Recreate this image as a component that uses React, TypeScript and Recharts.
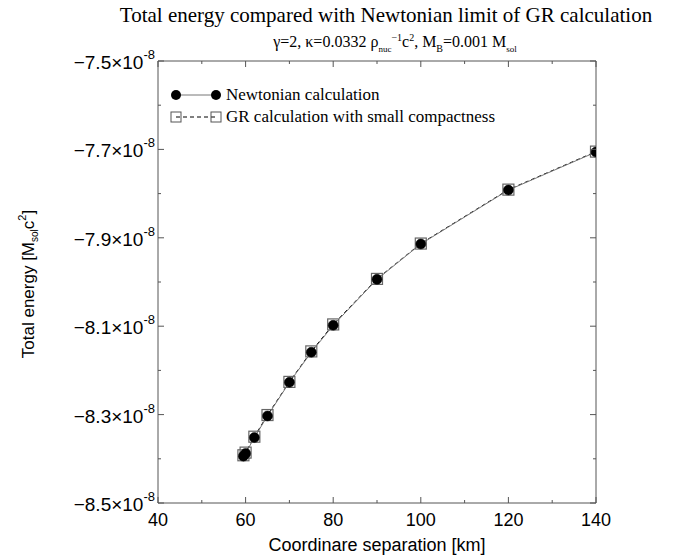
import { LineChart, Line, XAxis, YAxis, Legend } from 'recharts';

// coordinate separation in km
const separation = [59.5, 60, 62, 65, 70, 75, 80, 90, 100, 120, 140];
// total energy, in units of 1e-8 M_sol c^2
const newtonian = [-8.394, -8.388, -8.352, -8.303, -8.227, -8.159, -8.098, -7.994, -7.914, -7.792, -7.706];
const grSmall = [-8.392, -8.386, -8.350, -8.301, -8.226, -8.157, -8.096, -7.993, -7.913, -7.791, -7.705];

const xTicks = [40, 50, 60, 70, 80, 90, 100, 110, 120, 130, 140];
const xLabels = [40, 60, 80, 100, 120, 140];
const yTicks = [-8.5, -8.4, -8.3, -8.2, -8.1, -8.0, -7.9, -7.8, -7.7, -7.6, -7.5];
const yLabels = [-8.5, -8.3, -8.1, -7.9, -7.7, -7.5];

const data = separation.map((x, i) => ({ x, newt: newtonian[i], gr: grSmall[i] }));

const AXIS = '#555';
const SANS = '"Liberation Sans", Arial, sans-serif';
const SERIF = '"Liberation Serif", "Times New Roman", serif';

function BottomTick({ x, y, payload }: any) {
  const major = xLabels.includes(payload.value);
  return (
    <g>
      <line x1={x} x2={x} y1={y} y2={y - (major ? 6 : 3)} stroke={AXIS} />
      {major && (
        <text x={x} y={y + 23} textAnchor="middle" fontSize={18} fontFamily={SANS} fill="#000">
          {payload.value}
        </text>
      )}
    </g>
  );
}

function TopTick({ x, y, payload }: any) {
  const major = xLabels.includes(payload.value);
  return <line x1={x} x2={x} y1={y} y2={y + (major ? 6 : 3)} stroke={AXIS} />;
}

function LeftTick({ x, y, payload }: any) {
  const major = yLabels.some((v) => Math.abs(v - payload.value) < 1e-6);
  return (
    <g>
      <line x1={x} x2={x + (major ? 6 : 3)} y1={y} y2={y} stroke={AXIS} />
      {major && (
        <text x={x - 3} y={y + 8} textAnchor="end" fontSize={19} fontFamily={SANS} fill="#000">
          <tspan>{'\u2212' + Math.abs(payload.value).toFixed(1) + '\u00d710'}</tspan>
          <tspan dy={-10} fontSize={13}>-8</tspan>
        </text>
      )}
    </g>
  );
}

function RightTick({ x, y, payload }: any) {
  const major = yLabels.some((v) => Math.abs(v - payload.value) < 1e-6);
  return <line x1={x} x2={x - (major ? 6 : 3)} y1={y} y2={y} stroke={AXIS} />;
}

function SquareDot({ cx, cy, index }: any) {
  return <rect key={`sq-${index}`} x={cx - 5.5} y={cy - 5.5} width={11} height={11} fill="none" stroke="#666" strokeWidth={1.2} />;
}

function LegendBox() {
  const txt = { fontFamily: SERIF, fontSize: 17, color: '#000' };
  return (
    <div style={{ lineHeight: '22px' }}>
      <div style={{ display: 'flex', alignItems: 'center' }}>
        <svg width={56} height={14}>
          <line x1={6} x2={46} y1={7} y2={7} stroke="#777" />
          <circle cx={6} cy={7} r={5} fill="#000" />
          <circle cx={46} cy={7} r={5} fill="#000" />
        </svg>
        <span style={txt}>Newtonian calculation</span>
      </div>
      <div style={{ display: 'flex', alignItems: 'center' }}>
        <svg width={56} height={14}>
          <line x1={6} x2={46} y1={7} y2={7} stroke="#000" strokeDasharray="4 3" />
          <rect x={1} y={2} width={10} height={10} fill="none" stroke="#555" />
          <rect x={41} y={2} width={10} height={10} fill="none" stroke="#555" />
        </svg>
        <span style={txt}>GR calculation with small compactness</span>
      </div>
    </div>
  );
}

export default function App() {
  return (
    <div style={{ position: 'absolute', left: 0, top: 0, width: 680, height: 557, background: '#fff' }}>
      <div style={{ position: 'absolute', left: 0, top: 3, width: 772, textAlign: 'center', fontFamily: SERIF, fontSize: 21, color: '#000' }}>
        Total energy compared with Newtonian limit of GR calculation
      </div>
      <div style={{ position: 'absolute', left: 0, top: 32, width: 790, textAlign: 'center', fontFamily: SERIF, fontSize: 16, color: '#000' }}>
        γ=2, κ=0.0332 ρ<sub style={{ fontSize: 9 }}>nuc</sub>
        <sup style={{ fontSize: 10 }}>−1</sup>c<sup style={{ fontSize: 10 }}>2</sup>, M
        <sub style={{ fontSize: 10 }}>B</sub>=0.001 M<sub style={{ fontSize: 9 }}>sol</sub>
      </div>
      <LineChart
        width={680}
        height={557}
        data={data}
        margin={{ top: 60, right: 83, left: 0, bottom: 0 }}
        style={{ position: 'absolute', left: 0, top: 0 }}
      >
        <XAxis
          dataKey="x"
          type="number"
          domain={[40, 140]}
          ticks={xTicks}
          allowDataOverflow
          height={54}
          stroke={AXIS}
          tickLine={false}
          tickSize={0}
          tickMargin={0}
          tick={<BottomTick />}
          interval={0}
          label={{
            content: ({ viewBox }: any) => (
              <text x={viewBox.x + viewBox.width / 2} y={viewBox.y + 48} textAnchor="middle" fontSize={18} fontFamily={SANS} fill="#000">
                Coordinare separation [km]
              </text>
            ),
          }}
        />
        <XAxis
          xAxisId="top"
          orientation="top"
          dataKey="x"
          type="number"
          domain={[40, 140]}
          ticks={xTicks}
          allowDataOverflow
          height={1}
          stroke={AXIS}
          tickLine={false}
          tickSize={0}
          tickMargin={0}
          tick={<TopTick />}
          interval={0}
        />
        <YAxis
          type="number"
          domain={[-8.5, -7.5]}
          ticks={yTicks}
          allowDataOverflow
          width={158}
          stroke={AXIS}
          tickLine={false}
          tickSize={0}
          tickMargin={0}
          tick={<LeftTick />}
          interval={0}
          label={{
            content: () => (
              <text transform="translate(34,284) rotate(-90)" textAnchor="middle" fontSize={17} fontFamily={SANS} fill="#000">
                Total energy [M
                <tspan dy={4} fontSize={10}>sol</tspan>
                <tspan dy={-4}>c</tspan>
                <tspan dy={-8} fontSize={11}>2</tspan>
                <tspan dy={8}>]</tspan>
              </text>
            ),
          }}
        />
        <YAxis
          yAxisId="right"
          orientation="right"
          type="number"
          domain={[-8.5, -7.5]}
          ticks={yTicks}
          allowDataOverflow
          width={1}
          stroke={AXIS}
          tickLine={false}
          tickSize={0}
          tickMargin={0}
          tick={<RightTick />}
          interval={0}
        />
        <Legend
          layout="vertical"
          align="center"
          verticalAlign="middle"
          wrapperStyle={{ left: 170, top: 84, width: 380 }}
          content={() => <LegendBox />}
        />
        <Line
          dataKey="gr"
          type="linear"
          stroke="#000"
          strokeWidth={1}
          strokeDasharray="4 3"
          dot={SquareDot}
          isAnimationActive={false}
        />
        <Line
          dataKey="newt"
          type="linear"
          stroke="#777"
          strokeWidth={1}
          dot={{ r: 5, fill: '#000', stroke: '#000', strokeWidth: 0.5 }}
          isAnimationActive={false}
        />
      </LineChart>
    </div>
  );
}
